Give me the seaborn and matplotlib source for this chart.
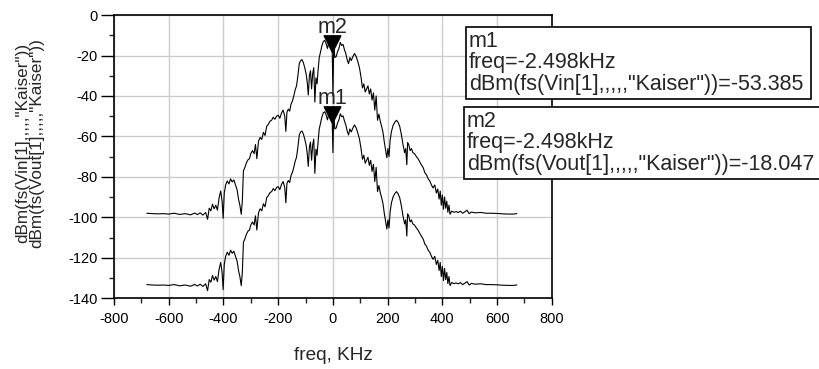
import matplotlib
matplotlib.use("Agg")
import matplotlib.pyplot as plt
from matplotlib.patches import Rectangle
from matplotlib.ticker import MultipleLocator
import pandas as pd
import seaborn as sns

# frequency points (kHz) shared by both spectra
freq = [-680, -660, -640, -620, -600, -580, -560, -540, -520, -505, -495, -485, -475, -465,
        -458, -452, -446, -440, -434, -428, -422, -416, -410, -405, -401, -397, -392, -386,
        -380, -374, -368, -362, -356, -350, -345, -340, -335, -331, -327, -322, -316, -310,
        -305, -300, -294, -288, -283, -278, -272, -266, -260, -254, -248, -242, -236, -230,
        -224, -218, -212, -206, -200, -194, -188, -182, -176, -172, -168, -163, -158, -153,
        -148, -143, -138, -133, -128, -123, -118, -113, -108, -103, -98, -94, -90, -86,
        -82, -78, -74, -70, -66, -62, -58, -54, -50, -45, -40, -35, -30, -25, -20, -15,
        -10, -6, -2.5, 0, 3, 7, 12, 17, 22, 27, 32, 37, 42, 47, 52, 57, 62, 67, 73, 79,
        85, 91, 97, 103, 108, 113, 118, 123, 128, 133, 138, 143, 148, 153, 158, 163, 168,
        173, 178, 183, 188, 193, 197, 201, 205, 209, 214, 220, 226, 232, 238, 244, 250,
        256, 262, 266, 270, 273, 277, 282, 287, 292, 298, 305, 311, 317, 323, 330, 336,
        342, 348, 354, 360, 366, 372, 378, 383, 388, 392, 396, 400, 404, 408, 412, 416,
        420, 424, 428, 434, 442, 450, 458, 466, 474, 482, 490, 498, 506, 520, 540, 560,
        580, 600, 620, 640, 660, 672]

# dBm(fs(Vout[1],,,,,"Kaiser"))
vout = [-98.0, -98.2, -98.3, -98.2, -98.4, -98.0, -98.6, -98.2, -98.8, -97.9, -98.7, -97.8, -98.9, -97.6,
        -101.0, -95.5, -96.8, -93.5, -95.8, -94.0, -96.5, -90.5, -87.0, -92.0, -100.5, -88.0, -84.0, -82.0,
        -83.5, -81.0, -82.5, -81.5, -84.0, -86.5, -91.0, -94.0, -98.5, -92.0, -77.0, -75.5, -73.0, -71.5,
        -71.0, -68.5, -67.0, -68.5, -64.0, -71.0, -62.5, -60.5, -61.5, -58.0, -59.5, -55.0, -54.0, -52.5,
        -52.0, -50.5, -51.5, -50.0, -49.5, -51.0, -48.5, -47.0, -50.0, -57.5, -48.0, -46.5, -47.5, -44.0,
        -42.5, -40.0, -37.0, -35.0, -30.0, -24.0, -22.5, -22.0, -23.5, -26.0, -29.0, -33.0, -39.5, -30.0,
        -27.5, -36.5, -29.0, -26.0, -43.0, -31.0, -34.0, -27.0, -21.0, -18.0, -15.0, -13.0, -12.5, -14.0, -16.5, -13.5,
        -15.0, -12.0, -18.047, -40.0, -14.0, -21.0, -20.5, -18.0, -16.5, -13.5, -15.0, -14.5, -17.0, -19.0, -22.0, -24.0, -21.0, -22.5, -20.5, -19.0,
        -20.5, -23.0, -26.0, -31.0, -36.0, -34.0, -38.0, -36.5, -35.0, -39.0, -36.5, -42.0, -38.5, -47.0, -40.0, -52.0, -49.0,
        -52.5, -55.0, -58.0, -63.0, -67.0, -70.5, -66.0, -70.0, -62.0, -57.5, -54.5, -53.0, -52.0, -53.0, -55.0, -59.0,
        -64.0, -68.0, -66.0, -74.0, -63.0, -64.0, -67.0, -66.0, -68.0, -68.5, -70.0, -71.0, -72.5, -74.0, -75.5, -78.0,
        -79.0, -81.0, -82.0, -84.0, -85.5, -84.0, -88.0, -86.0, -91.0, -87.0, -94.0, -89.0, -96.0, -90.0, -95.5, -92.0,
        -97.5, -94.0, -98.5, -97.0, -97.5, -97.2, -97.6, -97.0, -98.0, -97.3, -96.5, -98.2, -97.4, -97.8, -97.6, -98.0,
        -98.0, -98.1, -98.3, -98.4, -98.4, -98.2]

# dBm(fs(Vin[1],,,,,"Kaiser"))
vin = [-133.3, -133.5, -133.6, -133.5, -133.7, -133.3, -133.9, -133.5, -134.1, -133.2, -134.0, -133.1, -134.2, -132.9,
       -136.3, -130.8, -132.1, -128.8, -131.1, -129.3, -131.8, -125.8, -122.3, -127.3, -135.8, -123.3, -119.3, -117.3,
       -118.8, -116.3, -117.8, -116.8, -119.3, -121.8, -126.3, -129.3, -133.8, -127.3, -112.3, -110.8, -108.3, -106.8,
       -106.3, -103.8, -102.3, -103.8, -99.3, -106.3, -97.8, -95.8, -96.8, -93.3, -94.8, -90.3, -89.3, -87.8,
       -87.3, -85.8, -86.8, -85.3, -84.8, -86.3, -83.8, -82.3, -85.3, -92.8, -83.3, -81.8, -82.8, -79.3,
       -77.8, -75.3, -72.3, -70.3, -65.3, -59.3, -57.8, -57.3, -58.8, -61.3, -64.3, -68.3, -74.8, -65.3,
       -62.8, -71.8, -64.3, -61.3, -78.3, -66.3, -69.3, -62.3, -56.3, -53.3, -50.3, -48.3, -47.8, -49.3, -51.8, -48.8,
       -50.3, -47.3, -53.385, -68.0, -49.3, -56.3, -55.8, -53.3, -51.8, -48.8, -50.3, -49.8, -52.3, -54.3, -57.3, -59.3, -56.3, -57.8, -55.8, -54.3,
       -55.8, -58.3, -61.3, -66.3, -71.3, -69.3, -73.3, -71.8, -70.3, -74.3, -71.8, -77.3, -73.8, -82.3, -75.3, -87.3, -84.3,
       -87.8, -90.3, -93.3, -98.3, -102.3, -105.8, -101.3, -105.3, -97.3, -92.8, -89.8, -88.3, -87.3, -88.3, -90.3, -94.3,
       -99.3, -103.3, -101.3, -109.3, -98.3, -99.3, -102.3, -101.3, -103.3, -103.8, -105.3, -106.3, -107.8, -109.3, -110.8, -113.3,
       -114.3, -116.3, -117.3, -119.3, -120.8, -119.3, -123.3, -121.3, -126.3, -122.3, -129.3, -124.3, -131.3, -125.3, -130.8, -127.3,
       -132.8, -129.3, -133.8, -132.3, -132.8, -132.5, -132.9, -132.3, -133.3, -132.6, -131.8, -133.5, -132.7, -133.1, -132.9, -133.3,
       -133.3, -133.4, -133.6, -133.7, -133.7, -133.5]

marker_names = ["m1", "m2"]
marker_freq = [-2.498, -2.498]
marker_vals = [-53.385, -18.047]
marker_exprs = ['dBm(fs(Vin[1],,,,,"Kaiser"))', 'dBm(fs(Vout[1],,,,,"Kaiser"))']

df = pd.concat([
    pd.DataFrame({"freq": freq, "dBm": vin, "trace": "Vin"}),
    pd.DataFrame({"freq": freq, "dBm": vout, "trace": "Vout"}),
])

sns.set_theme(style="white")
plt.rcParams["font.family"] = ["Liberation Sans", "DejaVu Sans"]
plt.rcParams["axes.unicode_minus"] = False

fig = plt.figure(figsize=(8.2, 3.69), dpi=100)
ax = fig.add_axes([0.139, 0.192, 0.534, 0.767])

sns.lineplot(data=df, x="freq", y="dBm", hue="trace", palette=["black", "black"],
             sort=False, estimator=None, legend=False, linewidth=0.8, ax=ax)

# marker triangles, tip sitting on the trace
tri = [(0, 0), (-0.5, 1), (0.5, 1), (0, 0)]
for name, fx, fy in zip(marker_names, marker_freq, marker_vals):
    ax.plot([fx], [fy], marker=tri, ms=24, color="black", ls="none", zorder=5)
    ax.annotate(name, (fx, fy), xytext=(0, 13.5), textcoords="offset points",
                ha="center", va="baseline", fontsize=15.5)

ax.set_xlim(-800, 800)
ax.set_ylim(-140, 0)
ax.xaxis.set_major_locator(MultipleLocator(200))
ax.xaxis.set_minor_locator(MultipleLocator(100))
ax.yaxis.set_major_locator(MultipleLocator(20))
ax.yaxis.set_minor_locator(MultipleLocator(10))
ax.grid(True, which="major", color="#cccccc", linewidth=1.0)
ax.tick_params(axis="x", which="major", direction="out", length=5, width=1, pad=5,
               labelsize=10.5, colors="black", bottom=True)
ax.tick_params(axis="x", which="minor", direction="out", length=3.5, width=1, bottom=True)
ax.tick_params(axis="y", which="major", direction="out", length=9.5, width=1, pad=2,
               labelsize=10.5, colors="black", left=True)
ax.tick_params(axis="y", which="minor", direction="out", length=3.5, width=1, left=True)
for s in ax.spines.values():
    s.set_color("black")
    s.set_linewidth(1.2)
ax.set_xlabel("")
ax.set_ylabel("")

fig.text(333 / 820, 1 - 360 / 369, "freq, KHz", ha="center", va="baseline", fontsize=13.7)
fig.text(30 / 820, 1 - 143 / 369, marker_exprs[0] + "\n" + marker_exprs[1], rotation=90,
         ha="center", va="center", fontsize=12.3, linespacing=0.95, multialignment="center")

# marker readout boxes
boxes = [(466, 27, 345, 72), (464, 107, 360, 72)]
for (bx, by, bw, bh), name, fx, fy, expr in zip(boxes, marker_names, marker_freq, marker_vals, marker_exprs):
    fig.patches.append(Rectangle((bx / 820, 1 - (by + bh) / 369), bw / 820, bh / 369,
                                 transform=fig.transFigure, facecolor="white",
                                 edgecolor="black", linewidth=1.2, zorder=10))
    lines = [name, f"freq={fx:.3f}kHz", f"{expr}={fy:.3f}"]
    for i, line in enumerate(lines):
        fig.text((bx + 3) / 820, 1 - (by + 19.7 + 21.7 * i) / 369, line,
                 ha="left", va="baseline", fontsize=15.5, zorder=11)

fig.savefig("out.png", dpi=100)
